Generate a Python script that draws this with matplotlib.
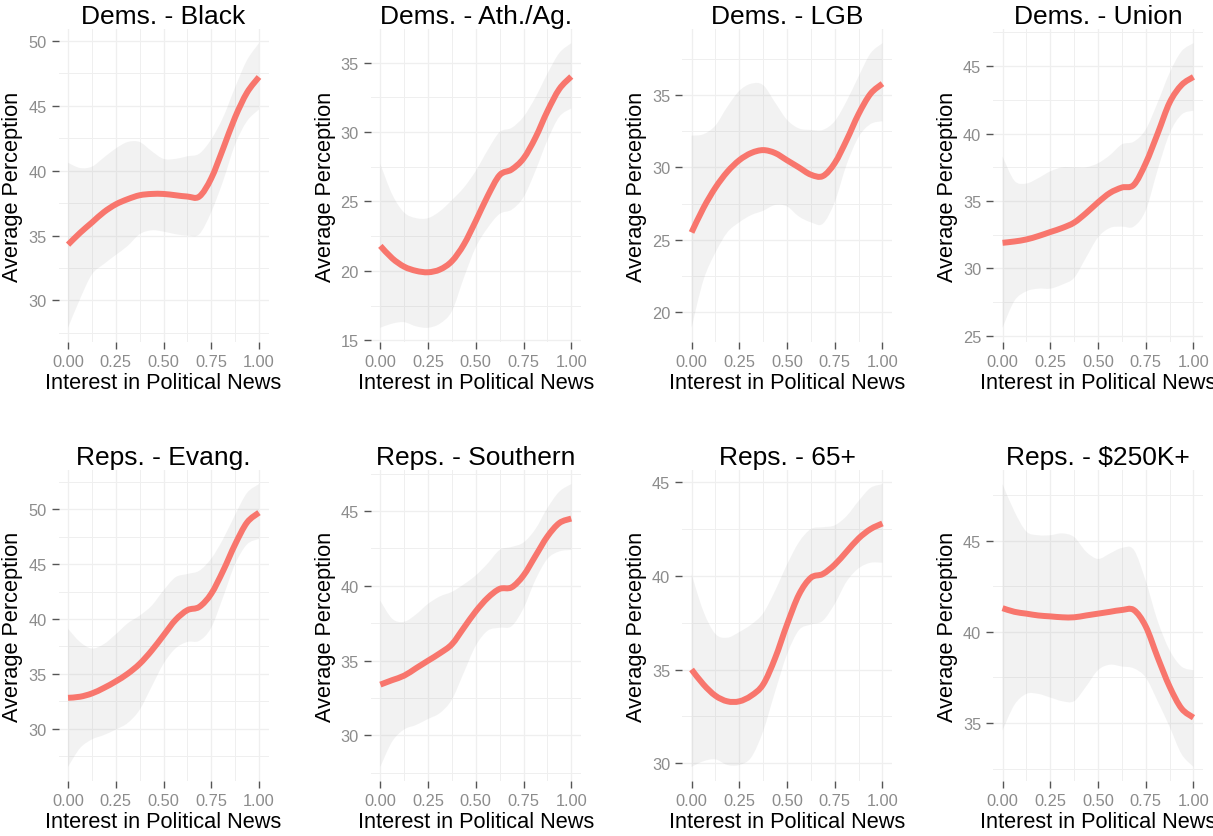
import matplotlib
matplotlib.use("Agg")
import matplotlib.pyplot as plt
import numpy as np
from matplotlib.path import Path
from matplotlib.patches import PathPatch
from matplotlib.ticker import MultipleLocator, AutoMinorLocator

plt.rcParams["font.family"] = ["Liberation Sans", "DejaVu Sans"]

LINE_COLOR = "#F8766D"
GRID_COLOR = "#efefef"
TICK_TEXT = "#8c8c8c"

# sample positions along the interest axis
INTEREST = [0.0, 0.0625, 0.125, 0.1875, 0.25, 0.3125, 0.375, 0.4375, 0.5,
            0.5625, 0.625, 0.6875, 0.75, 0.8125, 0.875, 0.9375, 1.0]

# --- Dems. - Black
BLACK_FIT = [34.3, 35.2, 36.0, 36.8, 37.4, 37.8, 38.1, 38.2, 38.2, 38.1, 38.0,
             38.0, 39.4, 41.7, 44.1, 46.0, 47.2]
BLACK_HI = [40.6, 40.2, 40.3, 41.0, 41.7, 42.2, 42.2, 41.5, 40.9, 40.9, 41.1,
            41.3, 42.4, 44.1, 46.4, 48.5, 49.8]
BLACK_LO = [27.9, 30.1, 32.0, 32.8, 33.5, 34.2, 35.1, 35.4, 35.3, 35.1, 35.0,
            35.1, 36.8, 39.2, 42.0, 43.8, 44.7]

# --- Dems. - Ath./Ag.
ATH_FIT = [21.8, 20.9, 20.3, 20.0, 19.9, 20.1, 20.7, 21.9, 23.6, 25.4, 26.9,
           27.3, 28.1, 29.6, 31.5, 33.1, 34.0]
ATH_HI = [27.7, 25.5, 24.2, 23.8, 23.8, 24.3, 25.1, 26.0, 27.2, 28.7, 30.0,
          30.3, 31.1, 32.5, 34.2, 35.7, 36.4]
ATH_LO = [15.9, 16.2, 16.3, 16.0, 15.9, 16.2, 17.1, 19.5, 21.7, 23.1, 24.1,
          24.4, 25.3, 27.2, 29.4, 31.1, 31.7]

# --- Dems. - LGB
LGB_FIT = [25.5, 27.2, 28.6, 29.7, 30.5, 31.0, 31.2, 31.0, 30.5, 30.0, 29.5,
           29.4, 30.3, 31.9, 33.7, 35.1, 35.8]
LGB_HI = [32.2, 32.3, 32.9, 34.2, 35.3, 35.8, 35.7, 34.5, 33.3, 32.7, 32.6,
          32.6, 33.2, 34.6, 36.3, 37.9, 38.6]
LGB_LO = [18.9, 22.2, 24.1, 25.5, 26.2, 26.7, 27.0, 27.4, 27.3, 26.6, 26.2,
          26.1, 27.6, 30.2, 32.1, 33.0, 33.2]

# --- Dems. - Union
UNION_FIT = [31.9, 32.0, 32.15, 32.4, 32.7, 33.0, 33.4, 34.1, 34.9, 35.6, 36.0,
             36.2, 37.8, 40.0, 42.3, 43.6, 44.2]
UNION_HI = [38.3, 36.5, 36.3, 36.7, 37.2, 37.5, 37.5, 37.5, 37.8, 38.4, 39.2,
            39.4, 40.3, 42.3, 44.5, 46.1, 46.7]
UNION_LO = [25.6, 27.6, 28.3, 28.5, 28.5, 28.8, 29.3, 30.8, 32.3, 33.0, 33.1,
            33.1, 34.3, 37.3, 40.0, 41.4, 41.7]

# --- Reps. - Evang.
EVANG_FIT = [32.8, 32.9, 33.2, 33.7, 34.3, 35.0, 35.9, 37.1, 38.5, 39.9, 40.8,
             41.1, 42.3, 44.4, 46.8, 48.8, 49.7]
EVANG_HI = [39.1, 37.9, 37.3, 37.7, 38.6, 39.6, 40.3, 41.2, 42.6, 43.8, 44.1,
            44.4, 45.5, 47.3, 49.5, 51.5, 52.3]
EVANG_LO = [26.5, 28.2, 29.0, 29.4, 29.9, 30.5, 31.7, 33.8, 35.9, 37.3, 37.9,
            38.0, 39.2, 42.0, 45.0, 46.8, 47.3]

# --- Reps. - Southern
SOUTH_FIT = [33.4, 33.7, 34.0, 34.5, 35.0, 35.5, 36.1, 37.2, 38.3, 39.2, 39.8,
             39.9, 40.7, 42.0, 43.3, 44.2, 44.5]
SOUTH_HI = [39.0, 37.8, 37.6, 38.1, 38.8, 39.3, 39.6, 40.1, 40.7, 41.5, 42.4,
            42.6, 42.9, 43.8, 45.2, 46.3, 46.8]
SOUTH_LO = [27.9, 29.6, 30.4, 30.7, 31.1, 31.5, 32.4, 34.2, 36.0, 37.0, 37.2,
            37.3, 38.5, 40.4, 41.8, 42.3, 42.4]

# --- Reps. - 65+
OLD_FIT = [35.0, 34.2, 33.6, 33.3, 33.3, 33.6, 34.2, 35.6, 37.4, 39.0, 39.9,
           40.1, 40.6, 41.3, 42.0, 42.5, 42.8]
OLD_HI = [40.1, 38.1, 36.9, 36.7, 37.0, 37.4, 38.0, 39.2, 40.6, 41.8, 42.5,
          42.6, 42.7, 43.2, 44.0, 44.7, 44.9]
OLD_LO = [29.8, 30.1, 30.2, 29.9, 29.9, 30.3, 31.7, 33.8, 35.8, 37.1, 37.4,
          37.6, 38.5, 39.7, 40.4, 40.7, 40.7]

# --- Reps. - $250K+
RICH_FIT = [41.3, 41.1, 41.0, 40.9, 40.85, 40.8, 40.8, 40.9, 41.0, 41.1, 41.2,
            41.2, 40.3, 38.6, 37.0, 35.8, 35.3]
RICH_HI = [48.1, 46.6, 45.5, 45.3, 45.3, 45.4, 45.2, 44.4, 44.0, 44.3, 44.6,
           44.5, 42.8, 40.6, 39.0, 38.1, 37.9]
RICH_LO = [34.6, 36.0, 36.6, 36.6, 36.4, 36.2, 36.2, 37.0, 37.9, 38.2, 38.1,
           38.0, 37.5, 36.2, 34.8, 33.3, 32.6]

PANELS = [
    ("Dems. - Black", BLACK_FIT, BLACK_LO, BLACK_HI),
    ("Dems. - Ath./Ag.", ATH_FIT, ATH_LO, ATH_HI),
    ("Dems. - LGB", LGB_FIT, LGB_LO, LGB_HI),
    ("Dems. - Union", UNION_FIT, UNION_LO, UNION_HI),
    ("Reps. - Evang.", EVANG_FIT, EVANG_LO, EVANG_HI),
    ("Reps. - Southern", SOUTH_FIT, SOUTH_LO, SOUTH_HI),
    ("Reps. - 65+", OLD_FIT, OLD_LO, OLD_HI),
    ("Reps. - $250K+", RICH_FIT, RICH_LO, RICH_HI),
]

X_TICKS = [0.0, 0.25, 0.5, 0.75, 1.0]


def bezier_through(xs, ys):
    """Cubic Bezier segments (Catmull-Rom tangents) passing through every point."""
    pts = np.column_stack([xs, ys]).astype(float)
    n = len(pts)
    verts = [pts[0]]
    for i in range(n - 1):
        p0 = pts[i - 1] if i > 0 else pts[i]
        p1, p2 = pts[i], pts[i + 1]
        p3 = pts[i + 2] if i + 2 < n else pts[i + 1]
        verts += [p1 + (p2 - p0) / 6.0, p2 - (p3 - p1) / 6.0, p2]
    return verts


def curve_path(xs, ys):
    verts = bezier_through(xs, ys)
    codes = [Path.MOVETO] + [Path.CURVE4] * (len(verts) - 1)
    return Path(verts, codes)


def band_path(xs, lo, hi):
    top = bezier_through(xs, hi)
    bottom = bezier_through(xs[::-1], lo[::-1])
    verts = top + bottom + [top[0]]
    codes = ([Path.MOVETO] + [Path.CURVE4] * (len(top) - 1)
             + [Path.LINETO] + [Path.CURVE4] * (len(bottom) - 1)
             + [Path.CLOSEPOLY])
    return Path(verts, codes)


fig = plt.figure(figsize=(12.13, 8.37), dpi=100)

W, H = 1213.0, 837.0
col_left = [58.5, 370.8, 682.0, 993.0]
row_top = [30.0, 471.0]
row_bottom = [343.0, 782.0]
panel_w = 210.0

for i, (title, fit, lo, hi) in enumerate(PANELS):
    r, c = divmod(i, 4)
    rect = [col_left[c] / W, 1 - row_bottom[r] / H,
            panel_w / W, (row_bottom[r] - row_top[r]) / H]
    ax = fig.add_axes(rect)

    ax.add_patch(PathPatch(band_path(INTEREST, lo, hi), facecolor="#999999",
                           alpha=0.12, linewidth=0, zorder=2))
    ax.add_patch(PathPatch(curve_path(INTEREST, fit), facecolor="none",
                           edgecolor=LINE_COLOR, linewidth=4.3,
                           capstyle="butt", joinstyle="round", zorder=3))

    # 5% expansion on both axes, as in the smoother's default scales
    ymin, ymax = min(lo), max(hi)
    pad = 0.05 * (ymax - ymin)
    ax.set_xlim(-0.05, 1.05)
    ax.set_ylim(ymin - pad, ymax + pad)

    ax.set_xticks(X_TICKS)
    ax.set_xticklabels([f"{t:.2f}" for t in X_TICKS])
    ax.xaxis.set_minor_locator(AutoMinorLocator(2))
    ax.yaxis.set_major_locator(MultipleLocator(5))
    ax.yaxis.set_minor_locator(MultipleLocator(2.5))

    ax.grid(True, which="major", color=GRID_COLOR, linewidth=0.9, zorder=0)
    ax.grid(True, which="minor", color=GRID_COLOR, linewidth=0.7, zorder=0)
    ax.set_axisbelow(True)
    for s in ax.spines.values():
        s.set_visible(False)

    ax.tick_params(which="major", length=5, width=1.0, color="#555555",
                   labelsize=11.8, labelcolor=TICK_TEXT, pad=3.5)
    ax.tick_params(which="minor", length=0)

    ax.set_title(title, fontsize=19, pad=4)
    ax.set_xlabel("Interest in Political News", fontsize=15.7)
    ax.set_ylabel("Average Perception", fontsize=15.7)
    ax.xaxis.set_label_coords(0.5, -0.095)
    ax.yaxis.set_label_coords(-0.168, 0.5)

fig.savefig("out.png", dpi=100, facecolor="white")
